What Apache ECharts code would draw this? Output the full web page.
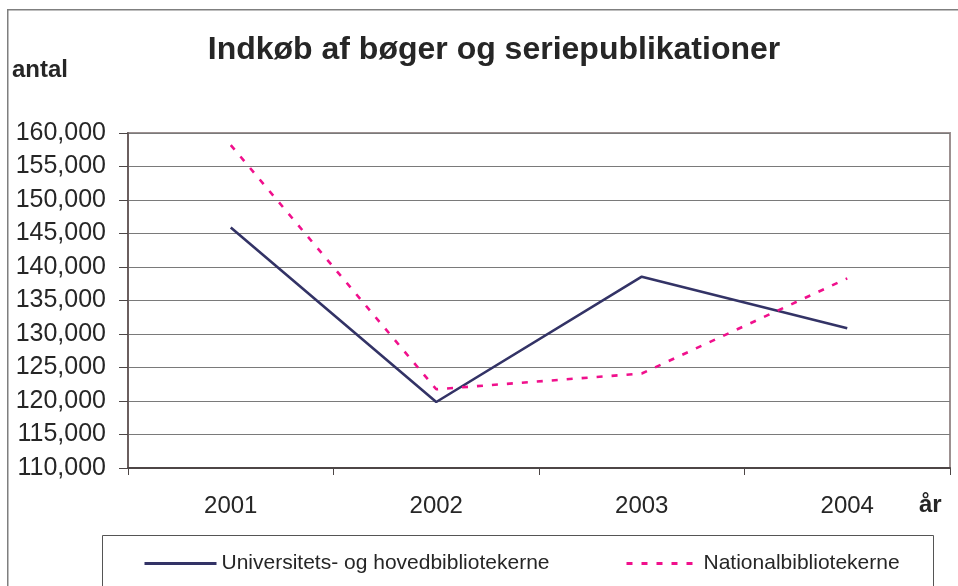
<!DOCTYPE html>
<html>
<head>
<meta charset="utf-8">
<script src="https://cdn.jsdelivr.net/npm/echarts@6/dist/echarts.min.js"></script>
<style>
  html, body { margin: 0; padding: 0; background: #fff; }
  #chart { width: 958px; height: 586px; }
</style>
</head>
<body>
<div id="chart"></div>
<script>
// Years on the category axis
const years = ['2001', '2002', '2003', '2004'];

// Purchases of books and serials (antal)
const universiteter = [145900, 119850, 138550, 130850];
const nationalbiblioteker = [158200, 121750, 124100, 138300];

// Value axis range
const yMin = 110000;
const yMax = 160000;
const yStep = 5000;

const seriesNames = ['Universitets- og hovedbibliotekerne', 'Nationalbibliotekerne'];
const titleText = 'Indkøb af bøger og seriepublikationer';

const FONT = '"Liberation Sans", Arial, Helvetica, sans-serif';
const TEXT = '#262626';

const legendBase = {
  top: 548,
  orient: 'horizontal',
  itemWidth: 72,
  itemHeight: 14,
  itemStyle: { opacity: 0 },
  lineStyle: { width: 3 },
  textStyle: { fontFamily: FONT, fontSize: 21, color: TEXT },
  z: 10
};

const chart = echarts.init(document.getElementById('chart'), null, { renderer: 'canvas' });

chart.setOption({
  backgroundColor: '#ffffff',
  animation: false,
  title: {
    text: titleText,
    left: 489,
    textAlign: 'center',
    top: 29,
    textStyle: { fontFamily: FONT, fontSize: 32, fontWeight: 'bold', color: TEXT }
  },
  graphic: [
    // outer chart frame
    { type: 'rect', left: 7, top: 9, z: -10, silent: true,
      shape: { width: 1000, height: 700 },
      style: { fill: 'transparent', stroke: '#7f7f7f', lineWidth: 1.5 } },
    // legend frame
    { type: 'rect', left: 102, top: 535, z: -5, silent: true,
      shape: { width: 831, height: 100 },
      style: { fill: 'transparent', stroke: '#555', lineWidth: 1 } },
    // axis titles
    { type: 'text', left: 12, top: 58,
      style: { text: 'antal', font: 'bold 24px ' + FONT, fill: TEXT } },
    { type: 'text', left: 919, top: 493,
      style: { text: 'år', font: 'bold 24px ' + FONT, fill: TEXT } }
  ],
  legend: [
    Object.assign({}, legendBase, { left: 138, data: [seriesNames[0]] }),
    Object.assign({}, legendBase, { left: 620, data: [seriesNames[1]] })
  ],
  grid: {
    left: 128, right: 8, top: 133, bottom: 118,
    show: true,
    borderColor: '#9c9090',
    borderWidth: 2,
    backgroundColor: 'transparent'
  },
  xAxis: {
    type: 'category',
    data: years,
    boundaryGap: true,
    axisLine: { show: true, lineStyle: { color: '#4d4646', width: 2 } },
    axisTick: { show: true, interval: 0, length: 7, lineStyle: { color: '#4d4646', width: 1 } },
    axisLabel: { margin: 26, fontFamily: FONT, fontSize: 24, color: TEXT }
  },
  yAxis: {
    type: 'value',
    min: yMin,
    max: yMax,
    interval: yStep,
    axisLine: { show: true, lineStyle: { color: '#6b5f5f', width: 2 } },
    axisTick: { show: true, length: 9, lineStyle: { color: '#4d4646', width: 1 } },
    splitLine: { show: true, lineStyle: { color: '#7a7a7a', width: 1.2 } },
    axisLabel: {
      margin: 22,
      fontFamily: FONT,
      fontSize: 25,
      color: TEXT,
      formatter: v => v.toLocaleString('en-US')
    }
  },
  series: [
    {
      name: seriesNames[0],
      type: 'line',
      data: universiteter,
      symbol: 'none',
      itemStyle: { color: '#333366' },
      lineStyle: { color: '#333366', width: 2.6 }
    },
    {
      name: seriesNames[1],
      type: 'line',
      data: nationalbiblioteker,
      symbol: 'none',
      itemStyle: { color: '#f0108c' },
      lineStyle: { color: '#f0108c', width: 2.6, type: [6, 9] }
    }
  ]
});
</script>
</body>
</html>
